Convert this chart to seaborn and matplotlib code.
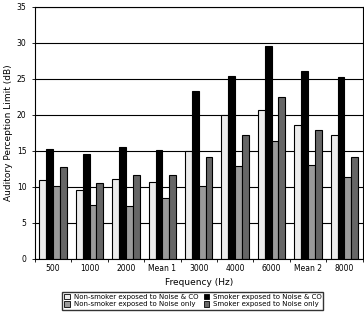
import pandas as pd
import matplotlib
matplotlib.use('Agg')
import matplotlib.pyplot as plt
import seaborn as sns

# Data
freqs = ['500', '1000', '2000', 'Mean 1', '3000', '4000', '6000', 'Mean 2', '8000']
groups = ['Non-smoker exposed to Noise & CO', 'Non-smoker exposed to Noise only',
          'Smoker exposed to Noise & CO', 'Smoker exposed to Noise only']
ns_noise_co = [11.0, 9.6, 11.1, 10.7, 15.0, 20.0, 20.7, 18.6, 17.2]
s_noise_co = [15.2, 14.5, 15.6, 15.1, 23.3, 25.4, 29.5, 26.1, 25.2]
ns_noise = [10.1, 7.5, 7.4, 8.4, 10.1, 12.9, 16.4, 13.1, 11.4]
s_noise = [12.8, 10.6, 11.6, 11.7, 14.1, 17.2, 22.5, 17.9, 14.1]

# bar order inside a group: light, black, mid grey, dark grey
bar_order = [groups[0], groups[2], groups[1], groups[3]]
colors = {groups[0]: '#ececec', groups[2]: '#000000',
          groups[1]: '#9a9a9a', groups[3]: '#666666'}

rows = []
for i, f in enumerate(freqs):
    rows.append((f, groups[0], ns_noise_co[i]))
    rows.append((f, groups[2], s_noise_co[i]))
    rows.append((f, groups[1], ns_noise[i]))
    rows.append((f, groups[3], s_noise[i]))
df = pd.DataFrame(rows, columns=['Frequency', 'Group', 'Value'])

fig = plt.figure(figsize=(3.64, 3.13), dpi=100)
ax = fig.add_axes([0.096, 0.173, 0.9, 0.805])
ax.set_axisbelow(True)
ax.yaxis.grid(True, color='black', linewidth=0.8)

sns.barplot(data=df, x='Frequency', y='Value', hue='Group', order=freqs,
            hue_order=bar_order, palette=colors, edgecolor='black',
            linewidth=0.8, width=0.75, ax=ax, legend=False)

ax.set_ylim(0, 35)
ax.set_xlim(-0.5, len(freqs) - 0.5)
ax.set_yticks(range(0, 36, 5))
ax.tick_params(axis='both', labelsize=5.5, length=2.5, width=0.6, colors='black')
ax.tick_params(axis='x', which='major', length=0, pad=4)
ax.set_xticks([i + 0.5 for i in range(-1, len(freqs))], minor=True)
ax.tick_params(axis='x', which='minor', length=2.5, width=0.6)
ax.set_xlabel('Frequency (Hz)', fontsize=6.5, labelpad=3)
ax.set_ylabel('Auditory Perception Limit (dB)', fontsize=6.5, labelpad=3)
for s in ax.spines.values():
    s.set_linewidth(0.8)

# legend in the reference's layout (2 columns)
handles = [plt.Rectangle((0, 0), 1, 1, facecolor=colors[g], edgecolor='black', linewidth=0.6)
           for g in groups]
fig.legend(handles, groups, loc='lower center', bbox_to_anchor=(0.53, 0.0), ncol=2,
           fontsize=5, frameon=True, fancybox=False, edgecolor='black',
           handlelength=0.8, handleheight=0.8, handletextpad=0.5, columnspacing=0.8,
           borderpad=0.3, labelspacing=0.2)

fig.savefig('out.png', dpi=100)
